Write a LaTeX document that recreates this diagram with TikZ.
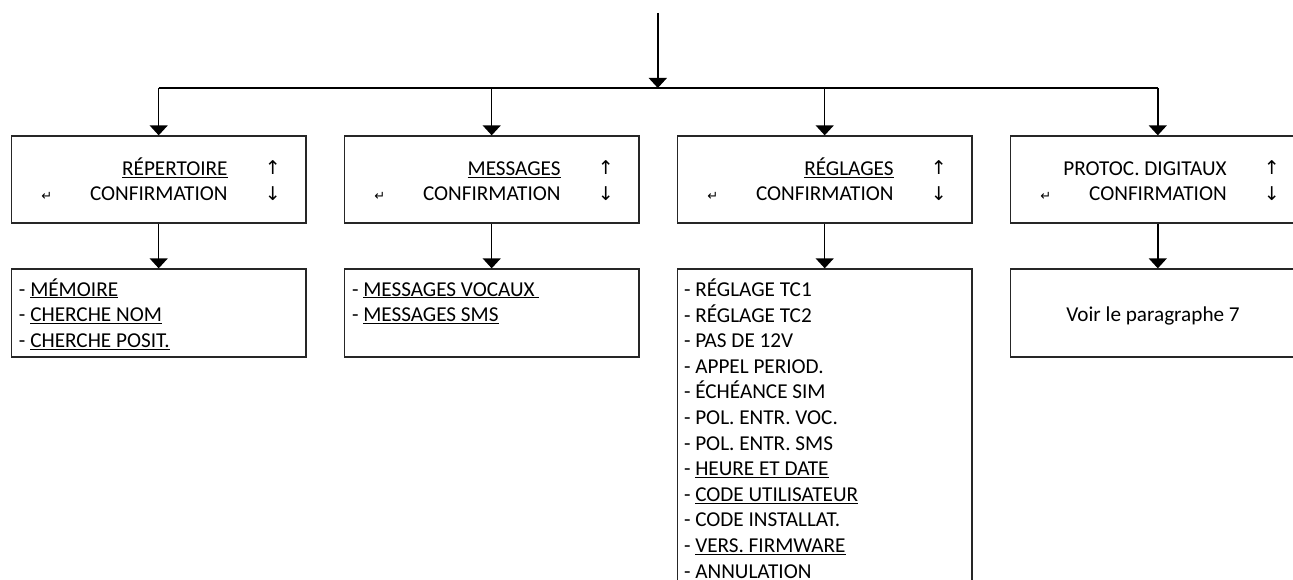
\documentclass[tikz,border=0pt]{standalone}
\usepackage{fontspec}
\setmainfont{Carlito}
\newfontfamily\symfont{DejaVu Sans}
\usetikzlibrary{arrows.meta}
\tikzset{
  conn/.style={line width=1.4pt, black},
  arr/.style={conn, -{Triangle[width=18pt,length=10pt]}},
  menubox/.style={draw=black!85, line width=1.3pt, rectangle, minimum width=294.5pt, minimum height=87pt, inner sep=0pt},
  lbl/.style={inner sep=0pt, font=\fontsize{21.2}{25.6}\selectfont},
  symb/.style={inner sep=0pt, font=\symfont\fontsize{19}{20}\selectfont},
  enter/.style={inner sep=0pt, font=\symfont\fontsize{13}{14}\selectfont},
}
\newcommand{\ul}[1]{\underline{#1}}
\begin{document}
\begin{tikzpicture}[x=1pt,y=-1pt]
\useasboundingbox (0,0) rectangle (1293,580);
\clip (0,0) rectangle (1293,580);
% upper boxes
\node[menubox] (b1) at (158.7,179.5) {};
\node[menubox] (b2) at (491.7,179.5) {};
\node[menubox] (b3) at (824.7,179.5) {};
\node[menubox] (b4) at (1157.8,179.5) {};
% lower boxes
\node[menubox, minimum height=88pt] (l1) at (158.7,313) {};
\node[menubox, minimum height=88pt] (l2) at (491.7,313) {};
\node[menubox, minimum height=340pt] (l3) at (824.7,439) {};
\node[menubox, minimum height=88pt] (l4) at (1157.8,313) {};
% top connectors
\coordinate (top) at (657.8,13);
\coordinate (bus) at (657.8,88);
\draw[arr] (top) -- (bus);
\draw[conn] (b1.north |- bus) -- (b4.north |- bus);
\foreach \b in {b1,b2,b3,b4}{\draw[arr] (\b.north |- bus) -- (\b.north);}
\draw[arr] (b1.south) -- (l1.north);
\draw[arr] (b2.south) -- (l2.north);
\draw[arr] (b3.south) -- (l3.north);
\draw[arr] (b4.south) -- (l4.north);
% upper box texts
\foreach \b/\t in {b1/{\ul{RÉPERTOIRE}}, b2/{\ul{MESSAGES}}, b3/{\ul{RÉGLAGES}}, b4/{PROTOC. DIGITAUX}}{
  \node[lbl, anchor=base east] (\b t1) at ([xshift=217pt]\b.west |- 0,175.5) {\t};
  \node[lbl, anchor=base east] (\b t2) at ([xshift=217pt]\b.west |- 0,200.5) {CONFIRMATION};
  \node[symb] (\b up) at ([xshift=262pt]\b.west |- 0,168) {↑};
  \node[symb] (\b dn) at ([xshift=262pt]\b.west |- 0,194) {↓};
  \node[enter] (\b en) at ([xshift=36pt]\b.west |- 0,196) {↵};
}
% lower box texts
\foreach \t [count=\i from 0] in {{- \ul{MÉMOIRE}},{- \ul{CHERCHE NOM}},{- \ul{CHERCHE POSIT.}}}{
  \node[lbl, anchor=base west] (l1t\i) at ([xshift=8pt]l1.west |- 0,{296+25.6*\i}) {\t};
}
\foreach \t [count=\i from 0] in {{- \ul{MESSAGES VOCAUX\ }},{- \ul{MESSAGES SMS}}}{
  \node[lbl, anchor=base west] (l2t\i) at ([xshift=8pt]l2.west |- 0,{296+25.6*\i}) {\t};
}
\foreach \t [count=\i from 0] in {{- RÉGLAGE TC1},{- RÉGLAGE TC2},{- PAS DE 12V},{- APPEL PERIOD.},{- ÉCHÉANCE SIM},{- POL. ENTR. VOC.},{- POL. ENTR. SMS},{- \ul{HEURE ET DATE}},{- \ul{CODE UTILISATEUR}},{- CODE INSTALLAT.},{- \ul{VERS. FIRMWARE}},{- ANNULATION}}{
  \node[lbl, anchor=base west] (l3t\i) at ([xshift=7pt]l3.west |- 0,{296.5+25.6*\i}) {\t};
}
\node[lbl, anchor=base] (l4t) at (1153,321) {Voir le paragraphe 7};
\end{tikzpicture}
\end{document}
